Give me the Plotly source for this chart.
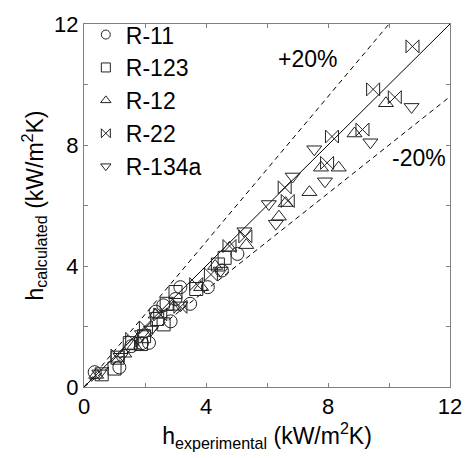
import plotly.graph_objects as go

# --- data (kW/m^2K) ---
r11_x = [0.35, 1.16, 1.55, 1.9, 2.13, 2.35, 2.6, 2.84, 3.0, 3.16, 3.48, 4.06, 4.52, 5.03]
r11_y = [0.49, 0.65, 1.35, 1.45, 1.46, 2.49, 2.7, 2.17, 2.91, 3.3, 2.75, 3.3, 3.85, 4.4]

r123_x = [0.58, 1.0, 1.1, 1.5, 1.87, 1.97, 2.4, 2.61, 2.71, 3.0, 3.68, 4.39, 4.61]
r123_y = [0.42, 0.61, 0.97, 1.45, 1.42, 1.68, 2.25, 2.07, 2.75, 3.14, 3.24, 4.05, 4.27]

r12_x = [0.4, 1.32, 1.65, 2.35, 2.94, 3.84, 4.3, 4.77, 5.32, 6.39, 6.61, 7.39, 7.77, 8.35, 8.87, 9.9]
r12_y = [0.4, 1.1, 1.36, 2.39, 2.65, 3.3, 4.0, 4.6, 4.69, 5.63, 6.08, 6.44, 7.25, 7.25, 8.38, 9.38]

r22_x = [1.1, 1.58, 2.03, 2.5, 3.16, 3.68, 4.16, 4.77, 5.29, 6.58, 6.68, 7.97, 8.13, 9.13, 9.48, 10.19, 10.77]
r22_y = [1.04, 1.59, 1.97, 2.4, 2.65, 3.4, 3.72, 4.66, 4.98, 6.6, 6.15, 7.41, 8.28, 8.51, 9.84, 9.58, 11.26]

r134a_x = [0.5, 1.2, 1.9, 2.2, 3.16, 4.48, 5.26, 6.06, 6.29, 6.84, 7.55, 7.9, 9.39, 10.74]
r134a_y = [0.45, 1.0, 1.75, 1.9, 2.7, 3.85, 5.15, 6.05, 5.4, 6.96, 7.86, 6.8, 8.09, 9.26]

ref_x = [0, 12]
ref_y = [0, 12]
plus_x = [0, 10]
plus_y = [0, 12]
minus_x = [0, 12]
minus_y = [0, 9.6]

tick_vals = [0, 4, 8, 12]
tick_text = ["0", "4", "8", "12"]

FONT = "Arial, Liberation Sans, sans-serif"
mk_line = dict(color="#222", width=1)

fig = go.Figure()

# reference lines
fig.add_trace(go.Scatter(x=ref_x, y=ref_y, mode="lines", line=dict(color="black", width=1),
                         showlegend=False, hoverinfo="skip"))
fig.add_trace(go.Scatter(x=plus_x, y=plus_y, mode="lines",
                         line=dict(color="black", width=1, dash="5px,4px"),
                         showlegend=False, hoverinfo="skip"))
fig.add_trace(go.Scatter(x=minus_x, y=minus_y, mode="lines",
                         line=dict(color="black", width=1, dash="5px,4px"),
                         showlegend=False, hoverinfo="skip"))

series = [
    ("R-11", r11_x, r11_y, "circle-open"),
    ("R-123", r123_x, r123_y, "square-open"),
    ("R-12", r12_x, r12_y, "triangle-up-open"),
    ("R-22", r22_x, r22_y, "bowtie-open"),
    ("R-134a", r134a_x, r134a_y, "triangle-down-open"),
]
for i, (name, xs, ys, sym) in enumerate(series):
    fig.add_trace(go.Scatter(x=xs, y=ys, mode="markers", name=name, showlegend=False,
                             marker=dict(symbol=sym, size=13, color="#222", line=mk_line)))
    # legend entry with smaller symbol
    fig.add_trace(go.Scatter(x=[None], y=[None], mode="markers", name=name, legendgroup=f"g{i}",
                             marker=dict(symbol=sym, size=9, color="#222", line=mk_line)))

fig.add_annotation(x=7.32, y=10.85, text="+20%", showarrow=False,
                   font=dict(family=FONT, size=23, color="black"))
fig.add_annotation(x=10.98, y=7.57, text="-20%", showarrow=False,
                   font=dict(family=FONT, size=23, color="black"))

axis_common = dict(
    range=[0, 12], tickmode="array", tickvals=tick_vals, ticktext=tick_text,
    ticks="inside", ticklen=4, tickcolor="#808080", showline=True, linecolor="#808080",
    linewidth=1, mirror="ticks", showgrid=False, zeroline=False,
    minor=dict(ticks="inside", dtick=2, tick0=0, ticklen=4, tickcolor="#808080", showgrid=False),
    tickfont=dict(family=FONT, size=22, color="black"),
)

fig.update_layout(
    width=474, height=458,
    margin=dict(l=84, r=18, t=16, b=71),
    paper_bgcolor="white", plot_bgcolor="white",
    font=dict(family=FONT, color="black"),
    xaxis=dict(**axis_common,
               title=dict(text="h<sub>experimental</sub> (kW/m<sup>2</sup>K)",
                          font=dict(family=FONT, size=23), standoff=2)),
    yaxis=dict(**axis_common,
               title=dict(text="h<sub>calculated</sub> (kW/m<sup>2</sup>K)",
                          font=dict(family=FONT, size=23), standoff=4)),
    legend=dict(x=0.005, y=1.03, xanchor="left", yanchor="top", bgcolor="rgba(0,0,0,0)",
                font=dict(family=FONT, size=23), tracegroupgap=0, itemwidth=30),
)

fig.write_html("out.html")
